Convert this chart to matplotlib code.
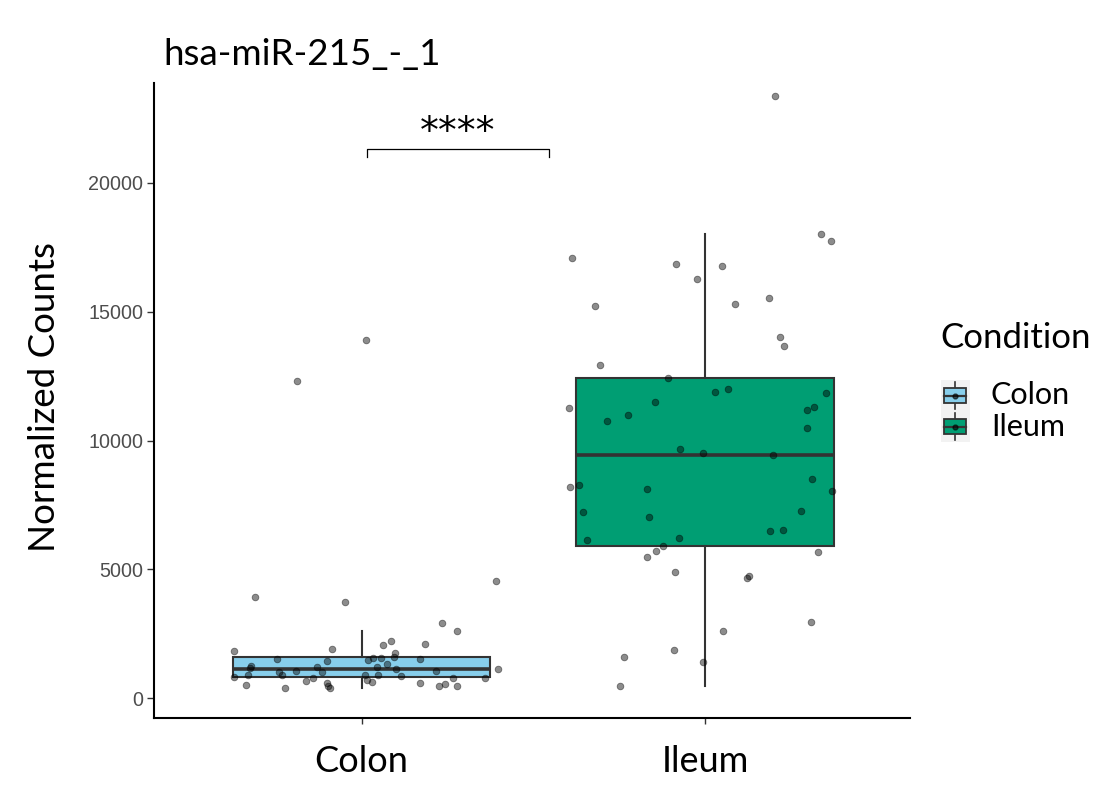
import numpy as np
import matplotlib
matplotlib.use("Agg")
import matplotlib.pyplot as plt

TEXT_FONT = ["Lato", "DejaVu Sans"]
TICK_FONT = ["Liberation Sans", "DejaVu Sans"]

conditions = ["Colon", "Ileum"]
fills = {"Colon": "#87CEEB", "Ileum": "#009E73"}
EDGE = "#333333"

# normalized counts per sample, with the horizontal jitter each point was drawn at
colon_counts = [3918, 3724, 4562, 2921, 2599, 2234, 2079, 2118, 1924, 1846,
                1769, 1513, 1435, 1474, 1575, 1563, 1602, 1524, 1319, 1265,
                1187, 1214, 1214, 1125, 1059, 1137, 1020, 915, 1047, 1009,
                838, 892, 787, 671, 892, 710, 632, 904, 853, 799,
                799, 528, 411, 593, 489, 400, 582, 477, 555, 477,
                12320, 13887]
colon_jitter = [-0.310, -0.048, 0.390, 0.235, 0.278, 0.086, 0.062, 0.184, -0.087, -0.372,
                0.098, -0.248, -0.101, 0.019, 0.033, 0.056, 0.095, 0.170, 0.075, -0.322,
                -0.325, -0.129, 0.045, 0.100, 0.217, 0.396, -0.240, -0.233, -0.192, -0.117,
                -0.372, -0.332, -0.143, -0.161, 0.009, 0.015, 0.030, 0.047, 0.114, 0.266,
                0.358, -0.338, -0.224, -0.100, -0.098, -0.092, 0.170, 0.225, 0.243, 0.277,
                -0.188, 0.013]

ileum_counts = [23375, 17067, 16846, 16780, 16253, 18022, 17750, 15206, 15306, 15539,
                14026, 13654, 12940, 12436, 11893, 11998, 11854, 11505, 11272, 10745,
                10978, 11172, 11311, 10485, 9659, 9515, 9438, 8208, 8274, 8107,
                8518, 8053, 7215, 7021, 7265, 6129, 6206, 6501, 6528, 5919,
                5714, 5481, 5687, 4888, 4678, 4744, 2948, 2611, 1590, 1885,
                1396, 477]
ileum_jitter = [0.205, -0.388, -0.084, 0.049, -0.023, 0.337, 0.368, -0.320, 0.087, 0.186,
                0.219, 0.229, -0.307, -0.107, 0.030, 0.066, 0.352, -0.146, -0.397, -0.286,
                -0.224, 0.296, 0.318, 0.297, -0.074, -0.006, 0.199, -0.393, -0.368, -0.169,
                0.311, 0.371, -0.354, -0.163, 0.280, -0.343, -0.076, 0.189, 0.227, -0.122,
                -0.144, -0.169, 0.328, -0.086, 0.123, 0.127, 0.309, 0.053, -0.235, -0.090,
                -0.005, -0.247]

# box summaries (lower whisker, Q1, median, Q3, upper whisker)
whislo = [400, 477]
q1 = [815, 5919]
medians = [1137, 9438]
q3 = [1614, 12436]
whishi = [2599, 18022]

y_ticks = [0, 5000, 10000, 15000, 20000]
signif_label = "****"
bracket_x = [1.015, 1.546]
bracket_y = 21307
bracket_drop = 320

fig = plt.figure(figsize=(10.96, 7.91), dpi=100)
W, H = 1096, 791
ax = fig.add_axes([154.3 / W, 1 - 717.7 / H, (910 - 154.3) / W, (717.7 - 82.7) / H])

stats = [dict(whislo=whislo[i], q1=q1[i], med=medians[i], q3=q3[i],
              whishi=whishi[i], fliers=[], label=c)
         for i, c in enumerate(conditions)]
bp = ax.bxp(stats, positions=[1, 2], widths=0.75, patch_artist=True,
            showcaps=False, showfliers=False,
            boxprops=dict(edgecolor=EDGE, linewidth=1.5),
            whiskerprops=dict(color=EDGE, linewidth=1.5),
            medianprops=dict(color=EDGE, linewidth=2.6, solid_capstyle="butt"))
for patch, c in zip(bp["boxes"], conditions):
    patch.set_facecolor(fills[c])

for pos, counts, jit in [(1, colon_counts, colon_jitter), (2, ileum_counts, ileum_jitter)]:
    ax.plot(pos + np.array(jit), counts, "o", ls="none", markersize=4.8,
            color="black", alpha=0.45, markeredgewidth=0.6, zorder=4)

# significance bracket
bx0, bx1 = bracket_x
ax.plot([bx0, bx0, bx1, bx1],
        [bracket_y - bracket_drop, bracket_y, bracket_y, bracket_y - bracket_drop],
        color="black", linewidth=0.9)
ax.text((bx0 + bx1) / 2, 21550, signif_label, ha="center", va="baseline",
        fontsize=27, family="DejaVu Sans")

ax.set_xlim(0.396, 2.597)
ax.set_ylim(-752, 23879)
ax.set_xticks([1, 2])
ax.set_xticklabels(conditions, family=TEXT_FONT, fontsize=26)
ax.set_yticks(y_ticks)
ax.set_yticklabels([str(v) for v in y_ticks], family=TICK_FONT, fontsize=14.2,
                   color="#4D4D4D")
ax.tick_params(axis="x", length=4, width=1, color=EDGE, pad=16)
ax.tick_params(axis="y", length=5, width=1, color=EDGE, pad=3)
for side in ["top", "right"]:
    ax.spines[side].set_visible(False)
for side in ["left", "bottom"]:
    ax.spines[side].set_linewidth(1.5)

fig.text(163 / W, 1 - 65 / H, "hsa-miR-215_-_1", family=TEXT_FONT, fontsize=26.5,
         ha="left", va="baseline")
fig.text(45 / W, 1 - 397 / H, "Normalized Counts", family=TEXT_FONT, fontsize=26.5,
         rotation=90, ha="center", va="center")

# legend: title, mini boxplot keys and labels
fig.text(940 / W, 1 - 348 / H, "Condition", family=TEXT_FONT, fontsize=25,
         ha="left", va="baseline")
key_ax = fig.add_axes([940.7 / W, 1 - 441.7 / H, 29.3 / W, 61.7 / H])
key_ax.set_xlim(0, 1)
key_ax.set_ylim(0, 2)
key_ax.axis("off")
key_ax.add_patch(plt.Rectangle((0, 0), 1, 2, color="#F2F2F2", zorder=0))
for k, c in enumerate(conditions):
    base = 1 - k
    key_ax.plot([0.5, 0.5], [base + 0.05, base + 0.92], color=EDGE, lw=1.2, zorder=1)
    key_ax.add_patch(plt.Rectangle((0.12, base + 0.25), 0.76, 0.48,
                                   facecolor=fills[c], edgecolor=EDGE, lw=1.3, zorder=2))
    key_ax.plot([0.12, 0.88], [base + 0.49, base + 0.49], color=EDGE, lw=1.6, zorder=3)
    key_ax.plot([0.5], [base + 0.49], "o", color="black", alpha=0.6, markersize=3.5, zorder=4)
    fig.text(991 / W, 1 - (395.5 + 31 * k) / H, c, family=TEXT_FONT, fontsize=22,
             ha="left", va="center")

fig.savefig("out.png", dpi=100)
